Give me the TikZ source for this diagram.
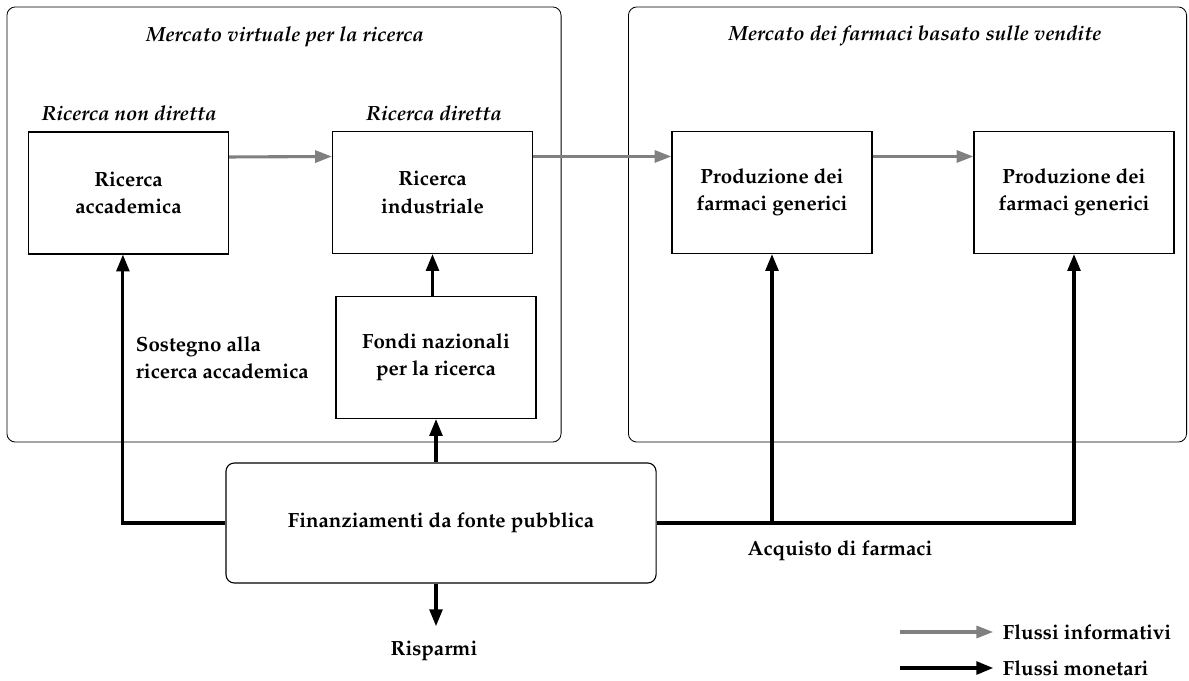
\documentclass[tikz,border=0pt]{standalone}
\usepackage[T1]{fontenc}
\usepackage{mathpazo}
\usepackage{tikz}
\usetikzlibrary{positioning,arrows.meta,calc}
\definecolor{flowgray}{RGB}{128,128,128}

\begin{document}
\begin{tikzpicture}[x=0.025cm, y=-0.025cm,
  area/.style={rectangle, draw, line width=0.6pt, rounded corners=6pt, inner sep=0pt},
  box/.style={rectangle, draw, line width=0.8pt, minimum width=5cm, minimum height=3.05cm,
              align=center, font=\fontsize{14.6}{19.5}\selectfont\bfseries},
  fund/.style={box, rounded corners=6pt, minimum width=10.75cm, minimum height=3cm},
  title/.style={font=\fontsize{14.6}{19.5}\selectfont\bfseries\itshape},
  lbl/.style={align=left, font=\fontsize{14.6}{19.5}\selectfont\bfseries},
  info/.style={-{Triangle[length=0.42cm,width=0.3cm]}, line width=2.2pt, color=flowgray},
  money/.style={-{Triangle[length=0.42cm,width=0.32cm]}, line width=2.2pt, black}
]
  \useasboundingbox (0,0) rectangle (1189,681);

  % the two markets
  \node[area, minimum width=13.85cm, minimum height=10.875cm] (VM) at (284,224.5) {};
  \node[area, minimum width=13.95cm, minimum height=10.875cm] (SM) at (907.5,224.5) {};
  \node[title] (VMt) at (285,37) {Mercato virtuale per la ricerca};
  \node[title] (SMt) at (915,36) {Mercato dei farmaci basato sulle vendite};
  \node[title] (ND) at (129,113) {Ricerca non diretta};
  \node[title] (DR) at (434,113) {Ricerca diretta};

  % research and production
  \node[box] (RA) at (128.5,193) {Ricerca\\accademica};
  \node[box] (RI) at (432.5,192.5) {Ricerca\\industriale};
  \node[box] (P1) at (772,192.5) {Produzione dei\\farmaci generici};
  \node[box] (P2) at (1074,192.5) {Produzione dei\\farmaci generici};
  \node[box] (FN) at (436,357.5) {Fondi nazionali\\per la ricerca};
  \node[fund] (FP) at (441,523) {Finanziamenti da fonte pubblica};

  \node[lbl, anchor=west] (SOS) at (131,357.5) {Sostegno alla\\ricerca accademica};
  \node[lbl] (ACQ) at (840,551) {Acquisto di farmaci};
  \node[lbl] (SAV) at (434,651) {Risparmi};

  % information flows
  \draw[info] ([yshift=0.9cm]RA.east) -- ([yshift=0.9cm]RI.west);
  \draw[info] ([yshift=0.9cm]RI.east) -- ([yshift=0.9cm]P1.west);
  \draw[info] ([yshift=0.9cm]P1.east) -- ([yshift=0.9cm]P2.west);

  % money flows
  \draw[money] (FN.north -| RI.south) -- (RI.south);
  \draw[money] (FN.south |- FP.north) -- (FN.south);
  \draw[money] (FP.west) -- ([xshift=-0.14cm]RA.south |- FP.west) -- ([xshift=-0.14cm]RA.south);
  \draw[money] (FP.east) -- (P2.south |- FP.east) -- (P2.south);
  \draw[money] (P1.south |- FP.east) -- (P1.south);
  \draw[money, shorten >=0.25cm] (FN.south |- FP.south) -- (SAV.north -| FN.south);

  % legend
  \coordinate (li) at (900,632);
  \coordinate (lm) at (900,668);
  \node[lbl, anchor=west] (LI) at (998,632) {Flussi informativi};
  \node[lbl, anchor=west] (LM) at (998,668) {Flussi monetari};
  \draw[info, shorten >=0.12cm] (li) -- (LI.west);
  \draw[money, shorten >=0.12cm] (lm) -- (LM.west);
\end{tikzpicture}
\end{document}
